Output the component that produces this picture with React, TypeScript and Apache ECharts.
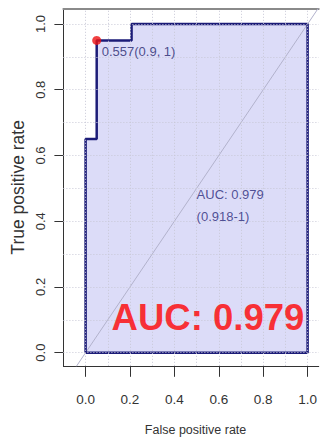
import React, { useEffect, useRef } from 'react';
import * as echarts from 'echarts';

// ROC curve (false positive rate, true positive rate)
const rocFpr = [0, 0, 0.05, 0.05, 0.207, 0.207, 1];
const rocTpr = [0, 0.65, 0.65, 0.95, 0.95, 1, 1];
// closing edge of the ROC polygon
const closeFpr = [1, 0];
const closeTpr = [0, 0];
// chance diagonal
const chanceVals = [-0.2, 1.2];
// best threshold point
const bestFpr = 0.05;
const bestTpr = 0.95;
const bestLabel = '0.557(0.9, 1)';
// AUC annotations
const aucLine = 'AUC: 0.979';
const ciLine = '(0.918-1)';
const aucPos = [0.5, 0.48];
const ciPos = [0.5, 0.413];
const bigAuc = 'AUC: 0.979';
const bigAucPos = [0.117, 0.108];
// axes
const tickValues = [0, 0.2, 0.4, 0.6, 0.8, 1.0];
const gridValues = [0, 0.1, 0.2, 0.3, 0.4, 0.5, 0.6, 0.7, 0.8, 0.9, 1.0];
const xTitle = 'False positive rate';
const yTitle = 'True positive rate';

const REG = "'Liberation Sans', Arial, sans-serif";
const NAVY = '#1c1c78';

export default function App() {
  const ref = useRef<HTMLDivElement>(null);
  useEffect(() => {
    if (!ref.current) return;
    const chart = echarts.init(ref.current, null, { renderer: 'svg' });
    const roc = rocFpr.map((x, i) => [x, rocTpr[i]]);
    const outline = roc.concat(closeFpr.map((x, i) => [x, closeTpr[i]]));
    const xMin = -0.1, xMax = 1.05, yMin = -0.04, yMax = 1.046;
    const gridStyle = { color: '#c8c8d6', width: 1, type: [1, 2] as any };
    chart.setOption({
      animation: false,
      grid: { left: 63.4, top: 8.9, width: 256, height: 356.9 },
      xAxis: [
        {
          type: 'value', min: xMin, max: xMax, position: 'bottom',
          splitLine: { show: false },
          axisLine: { show: true, onZero: false, lineStyle: { color: '#333', width: 1 } },
          axisTick: { show: true, customValues: tickValues, length: 11, lineStyle: { color: '#333' } },
          axisLabel: {
            customValues: tickValues, margin: 27, fontSize: 13.5, fontFamily: REG, color: '#333',
            formatter: (v: number) => v.toFixed(1),
          },
          name: xTitle, nameLocation: 'middle', nameGap: 58,
          nameTextStyle: { fontSize: 12.5, fontFamily: REG, color: '#333', padding: [0, 0, 0, 9] },
        },
        {
          type: 'value', min: xMin, max: xMax, position: 'top',
          splitLine: { show: false },
          axisLine: { show: true, onZero: false, lineStyle: { color: '#8a8a8a', width: 2 } },
          axisTick: { show: false }, axisLabel: { show: false },
        },
      ],
      yAxis: {
        type: 'value', min: yMin, max: yMax,
        splitLine: { show: false },
        axisLine: { show: true, onZero: false, lineStyle: { color: '#333', width: 1 } },
        axisTick: { show: true, customValues: tickValues, length: 9, lineStyle: { color: '#333' } },
        axisLabel: {
          customValues: tickValues, rotate: 90, margin: 16, fontSize: 13, fontFamily: REG, color: '#333',
          formatter: (v: number) => v.toFixed(1),
        },
        name: yTitle, nameLocation: 'middle', nameGap: 28,
        nameTextStyle: { fontSize: 17.5, fontFamily: REG, color: '#333' },
      },
      series: [
        {
          type: 'line', name: 'fill', data: roc, showSymbol: false, z: 1,
          lineStyle: { width: 0 },
          areaStyle: { color: '#dcdcf8', opacity: 1 },
          silent: true,
        },
        {
          type: 'line', name: 'grid', data: [], z: 2, silent: true,
          markLine: {
            silent: true, symbol: 'none', label: { show: false },
            lineStyle: gridStyle,
            data: [
              ...gridValues.map((v) => ({ xAxis: v, lineStyle: gridStyle })),
              ...gridValues.map((v) => ({ yAxis: v, lineStyle: gridStyle })),
            ],
          },
        },
        {
          type: 'line', name: 'chance', data: chanceVals.map((v) => [v, v]), showSymbol: false, z: 3,
          lineStyle: { color: '#b2b2cc', width: 1 }, silent: true,
        },
        {
          type: 'line', name: 'roc', data: outline, showSymbol: false, z: 4,
          lineStyle: { color: NAVY, width: 2.5 }, silent: true,
        },
        {
          type: 'scatter', name: 'best', data: [[bestFpr, bestTpr]], symbolSize: 9, z: 5,
          itemStyle: { color: '#ee1111' },
          label: {
            show: true, formatter: bestLabel, position: [9.5, 15.3], align: 'left', verticalAlign: 'middle',
            fontSize: 13, fontFamily: REG, color: '#26266e',
          },
        },
        {
          type: 'scatter', name: 'text', symbolSize: 0, z: 6, silent: true,
          data: [
            { value: aucPos, label: { formatter: aucLine } },
            { value: ciPos, label: { formatter: ciLine } },
            {
              value: bigAucPos,
              label: { formatter: bigAuc, fontSize: 36.5, fontWeight: 'bold', fontFamily: REG, color: '#ff0000' },
            },
          ],
          label: {
            show: true, position: [0, 0], align: 'left', verticalAlign: 'middle',
            fontSize: 13, fontFamily: REG, color: '#2a2a7a',
          },
        },
      ],
    });
    return () => chart.dispose();
  }, []);
  return <div ref={ref} style={{ position: 'absolute', left: 0, top: 0, width: 320, height: 442 }} />;
}
